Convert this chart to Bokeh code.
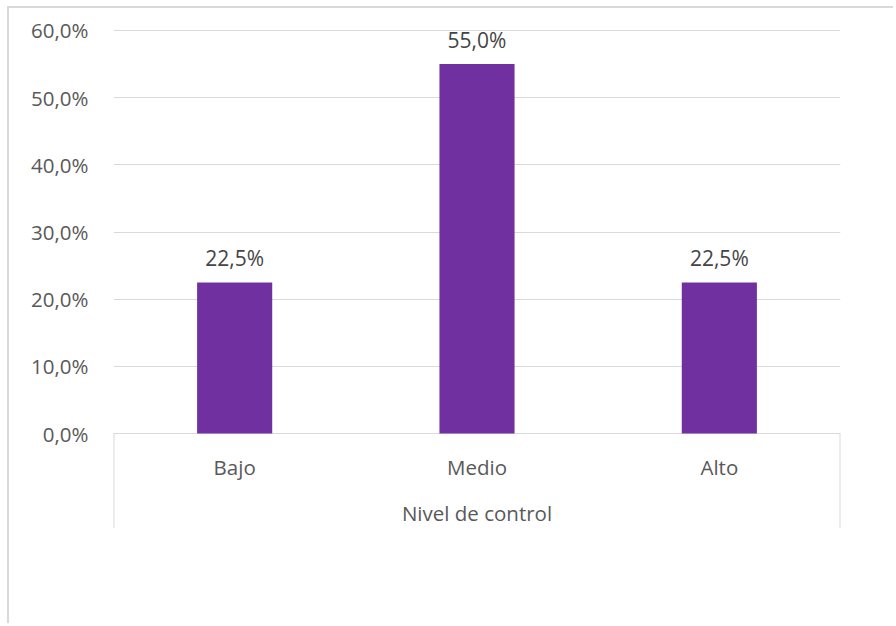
from bokeh.plotting import figure
from bokeh.layouts import column
from bokeh.models import ColumnDataSource, FixedTicker, CustomJSTickFormatter, Range1d
from bokeh.core.properties import value
from bokeh.embed import file_html
from bokeh.resources import INLINE

categories = ["Bajo", "Medio", "Alto"]
values = [0.225, 0.55, 0.225]
labels = ["22,5%", "55,0%", "22,5%"]
y_ticks = [0.0, 0.1, 0.2, 0.3, 0.4, 0.5, 0.6]
axis_title = "Nivel de control"

FONT = "Open Sans"
TXT = "#595959"
GRID = "#d9d9d9"
Y0 = -95 / 672
Y1 = 0.6 + 2 / 672

xs = [i + 0.5 for i in range(len(categories))]
src = ColumnDataSource(dict(x=xs, top=values, label=labels, cat=categories,
                            zero=[0.0] * len(values)))

p = figure(width=886, height=617, output_backend="svg", toolbar_location=None,
           x_range=Range1d(0, len(categories)), y_range=Range1d(Y0, Y1),
           min_border_left=104, min_border_right=55, min_border_top=20, min_border_bottom=97)
p.styles = {"border-top": "2px solid #d9d9d9", "border-left": "2px solid #d9d9d9"}
p.outline_line_color = None
p.background_fill_color = "white"
p.border_fill_color = "white"

p.xaxis.visible = False
p.xgrid.visible = False
p.yaxis.axis_line_color = None
p.yaxis.major_tick_line_color = None
p.yaxis.minor_tick_line_color = None
p.yaxis.ticker = FixedTicker(ticks=y_ticks)
p.yaxis.formatter = CustomJSTickFormatter(code="return (tick*100).toFixed(1).replace('.', ',') + '%';")
p.yaxis.major_label_text_font = FONT
p.yaxis.major_label_text_font_size = "20.5px"
p.yaxis.major_label_text_color = TXT
p.yaxis.major_label_standoff = 19
p.ygrid.ticker = FixedTicker(ticks=y_ticks)
p.ygrid.grid_line_color = GRID
p.ygrid.grid_line_width = 1

p.vbar(x="x", top="top", bottom="zero", width=0.31, source=src, fill_color="#7030A0", line_color=None)

p.text(x="x", y="top", text="label", source=src, text_align="center", text_baseline="bottom",
       y_offset=-10, text_font=value(FONT), text_font_size="21px", text_color="#454545")

p.text(x="x", y="zero", text="cat", source=src, text_align="center", text_baseline="middle",
       y_offset=33, text_font=value(FONT), text_font_size="20.5px", text_color=TXT)

p.text(x=[len(categories) / 2], y=[0.0], text=[axis_title], text_align="center", text_baseline="middle",
       y_offset=79, text_font=value(FONT), text_font_size="20.5px", text_color=TXT)

edge_src = ColumnDataSource(dict(x0=[0, len(categories)], y0=[0.0, 0.0],
                                 x1=[0, len(categories)], y1=[Y0, Y0]))
p.segment(x0="x0", y0="y0", x1="x1", y1="y1", source=edge_src, line_color=GRID, line_width=2)

layout = column(p, styles={"padding-left": "7px", "padding-top": "6px"})

open("out.html", "w").write(file_html(layout, INLINE))
